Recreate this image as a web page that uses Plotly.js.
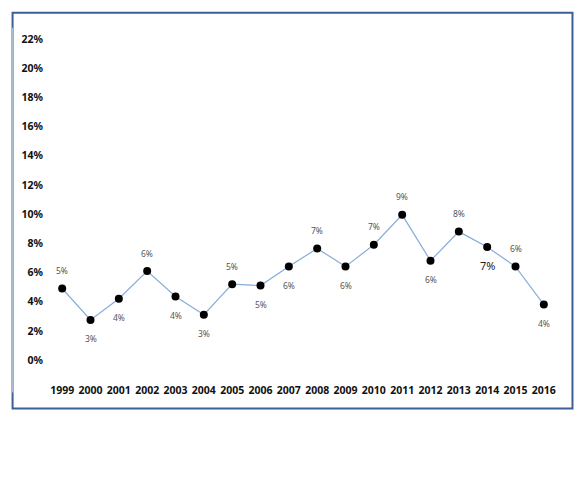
<!DOCTYPE html>
<html>
<head>
<meta charset="utf-8">
<script src="https://cdn.plot.ly/plotly-3.0.1.min.js"></script>
<style>html,body{margin:0;padding:0;background:#fff;}#chart{width:580px;height:477px;}</style>
</head>
<body>
<div id="chart"></div>
<script>
// ---- data ----
var years = ["1999","2000","2001","2002","2003","2004","2005","2006","2007","2008","2009","2010","2011","2012","2013","2014","2015","2016"];
var values = [0.049, 0.0275, 0.042, 0.061, 0.0435, 0.031, 0.052, 0.051, 0.064, 0.0765, 0.064, 0.079, 0.0995, 0.068, 0.088, 0.0775, 0.064, 0.038];
var pointLabels = ["5%","3%","4%","6%","4%","3%","5%","5%","6%","7%","6%","7%","9%","6%","8%","7%","6%","4%"];
var yTickValues = [0, 0.02, 0.04, 0.06, 0.08, 0.10, 0.12, 0.14, 0.16, 0.18, 0.20, 0.22];
var yTickLabels = ["0%","2%","4%","6%","8%","10%","12%","14%","16%","18%","20%","22%"];

// ---- presentation ----
var labelAbove = [true,false,false,true,false,false,true,false,false,true,false,true,true,false,true,false,true,false];
var fontFam = "'Noto Sans', 'DejaVu Sans', sans-serif";

var annotations = years.map(function (yr, i) {
  var big = (i === 15);
  return {
    x: i, y: values[i], xref: 'x', yref: 'y',
    text: pointLabels[i], showarrow: false,
    xanchor: 'center', yanchor: 'middle',
    yshift: labelAbove[i] ? 18 : -19,
    font: {family: fontFam, size: big ? 11 : 8.5, color: big ? '#222' : '#555'}
  };
});

var trace = {
  x: years, y: values, type: 'scatter', mode: 'lines+markers',
  line: {color: '#86acdb', width: 1.2},
  marker: {color: '#000', size: 8},
  cliponaxis: false, hoverinfo: 'x+y'
};

var layout = {
  width: 580, height: 477, autosize: false,
  margin: {l: 47.5, r: 21.5, t: 39.3, b: 116.7, pad: 0},
  paper_bgcolor: '#fff', plot_bgcolor: '#fff',
  showlegend: false,
  font: {family: fontFam, color: '#111'},
  xaxis: {
    type: 'category', range: [-0.5, 17.5],
    showgrid: false, zeroline: false, showline: false, ticks: '',
    tickfont: {family: fontFam, size: 10.5, color: '#111', weight: 'bold'},
    ticklabelstandoff: 22
  },
  yaxis: {
    range: [0, 0.22], tickvals: yTickValues, ticktext: yTickLabels,
    showgrid: false, zeroline: false, showline: false, ticks: '',
    tickfont: {family: fontFam, size: 10.5, color: '#111', weight: 'bold'},
    ticklabelstandoff: 4
  },
  annotations: annotations,
  shapes: [
    {type: 'rect', xref: 'paper', yref: 'paper',
     x0: (12 - 47.5) / 511, x1: (573 - 47.5) / 511,
     y0: (360.5 - 409) / 321.2, y1: (360.5 - 13) / 321.2,
     line: {color: '#3b5f96', width: 2}, fillcolor: 'rgba(0,0,0,0)', layer: 'below'},
    {type: 'line', xref: 'paper', yref: 'paper',
     x0: (12 - 47.5) / 511, x1: (12 - 47.5) / 511,
     y0: (360.5 - 393) / 321.2, y1: (360.5 - 28) / 321.2,
     line: {color: '#a9bad3', width: 2}, layer: 'below'}
  ]
};

Plotly.newPlot('chart', [trace], layout, {staticPlot: true, displayModeBar: false});
</script>
</body>
</html>
